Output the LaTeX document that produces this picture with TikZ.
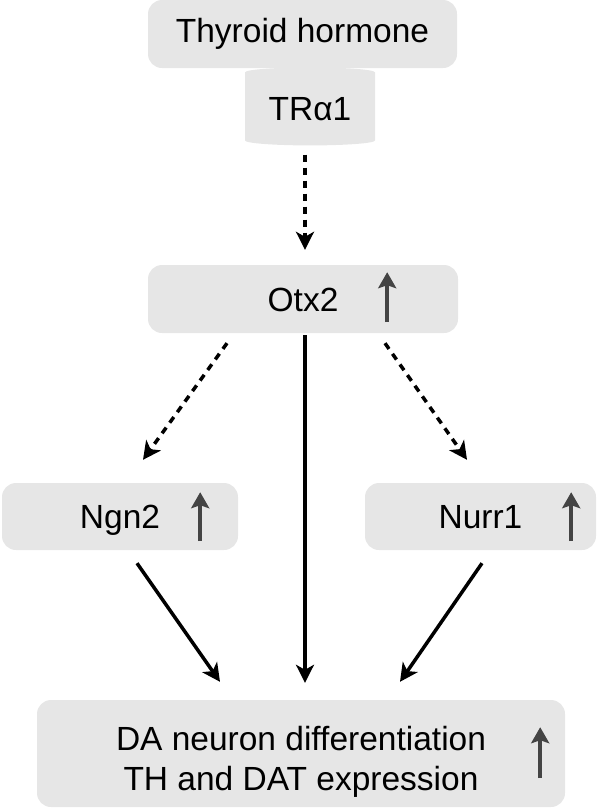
\documentclass[tikz,border=0pt]{standalone}
\usepackage{fontspec}
\setmainfont{Liberation Sans}
\usetikzlibrary{shapes.geometric, arrows.meta, positioning, calc}
\definecolor{boxgray}{RGB}{230,230,230}
\definecolor{markgray}{RGB}{68,68,68}

\begin{document}
\begin{tikzpicture}[x=1pt, y=-1pt,
  box/.style={rectangle, fill=boxgray, rounded corners=14pt, inner sep=0pt, align=center,
    text height=24pt, text depth=0pt, font=\fontsize{33.5}{40}\selectfont},
  upmark/.style={draw=markgray, line width=3.5pt, -{Stealth[length=16pt, width=18pt, inset=3pt]}},
  link/.style={line width=3.5pt, -{Stealth[length=18pt, width=18pt, inset=5pt]}},
  dlink/.style={link, dash pattern=on 7pt off 6pt}
]
  \useasboundingbox (0,0) rectangle (600,809);
  \node[box, minimum width=309pt, minimum height=68pt, text depth=8pt] (hormone) at (302.5,34) {Thyroid hormone};
  \node[cylinder, shape border rotate=90, aspect=0.12, fill=boxgray, inner sep=0pt,
    minimum width=130pt, minimum height=78pt, font=\fontsize{33.5}{40}\selectfont] (tra) at (310,109) {TRα1};
  \node[box, minimum width=310pt, minimum height=68pt] (otx) at (303,299) {Otx2};
  \node[box, minimum width=236pt, minimum height=67pt] (ngn) at (120,516.5) {Ngn2};
  \node[box, minimum width=231pt, minimum height=67pt] (nurr) at (480.5,516.5) {Nurr1};
  \node[box, minimum width=528pt, minimum height=107pt, text height=73pt] (result) at (301,753.5)
    {DA neuron differentiation\\TH and DAT expression};
  % up marks inside the boxes
  \draw[upmark] ([xshift=-71pt, yshift=11pt]otx.south east) -- ([xshift=-71pt, yshift=61pt]otx.south east);
  \draw[upmark] ([xshift=-38pt, yshift=9pt]ngn.south east) -- ([xshift=-38pt, yshift=58pt]ngn.south east);
  \draw[upmark] ([xshift=-25pt, yshift=9pt]nurr.south east) -- ([xshift=-25pt, yshift=58pt]nurr.south east);
  \draw[upmark] ([xshift=-25pt, yshift=29pt]result.south east) -- ([xshift=-25pt, yshift=80pt]result.south east);
  % connectors
  \draw[dlink] ([xshift=2pt, yshift=-9pt]otx.north |- tra.south) -- ([xshift=2pt, yshift=15pt]otx.north);
  \draw[dlink] ([xshift=-76pt, yshift=-10pt]otx.south) -- ([xshift=23pt, yshift=23pt]ngn.north);
  \draw[dlink] ([xshift=82pt, yshift=-10pt]otx.south) -- ([xshift=-13.5pt, yshift=23pt]nurr.north);
  \draw[link] ([xshift=2pt, yshift=-2pt]otx.south) -- ([xshift=2pt, yshift=17pt]otx.south |- result.north);
  \draw[link] ([xshift=17pt, yshift=-13pt]ngn.south) -- ([xshift=-81pt, yshift=18pt]result.north);
  \draw[link] ([xshift=1.5pt, yshift=-13pt]nurr.south) -- ([xshift=99pt, yshift=18pt]result.north);
\end{tikzpicture}
\end{document}
